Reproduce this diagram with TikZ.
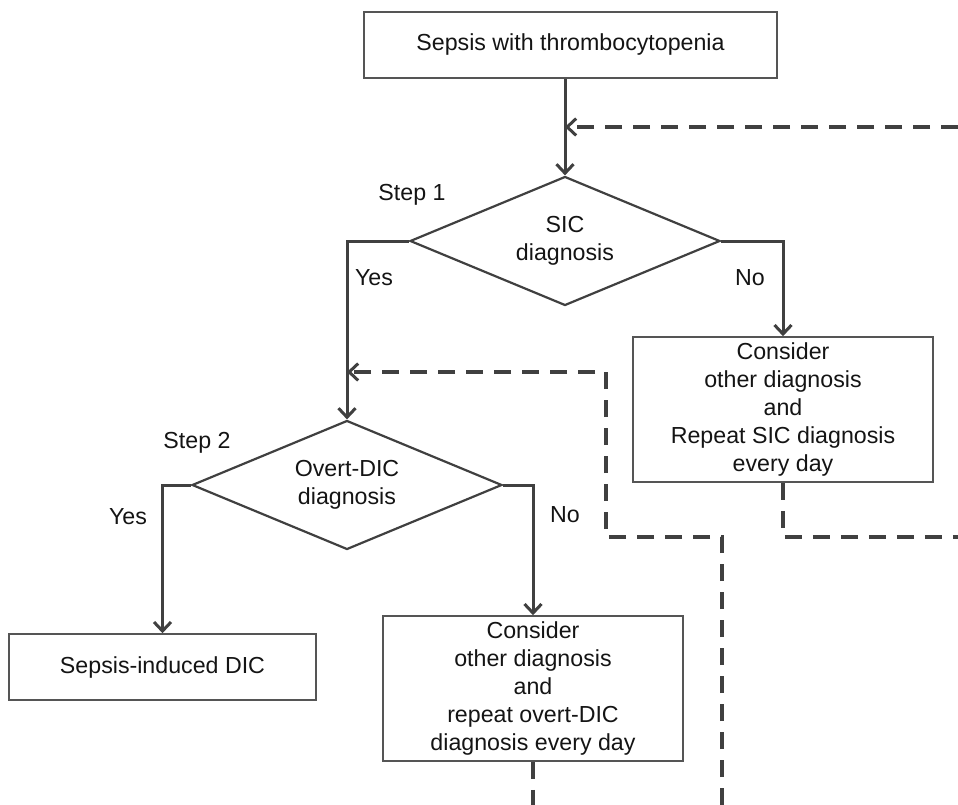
\documentclass[tikz,border=0pt]{standalone}
\usepackage{fontspec}
\setmainfont{Liberation Sans}
\usetikzlibrary{shapes.geometric,arrows.meta}
\definecolor{ln}{HTML}{404040}
\definecolor{bx}{HTML}{555555}
\definecolor{tx}{HTML}{141414}
\begin{document}
\begin{tikzpicture}[x=1pt,y=-1pt,
  every node/.style={font=\fontsize{23.2}{28}\selectfont, text=tx},
  box/.style={draw=bx, line width=1.6pt, rectangle, align=center, inner sep=0pt},
  dia/.style={draw=ln, line width=2.2pt, diamond, aspect=2.4, minimum width=310pt, minimum height=129pt, inner sep=0pt, align=center},
  arr/.style={draw=ln, line width=3pt, -{Straight Barb[length=9pt,width=17pt]}},
  dsh/.style={draw=ln, line width=3.5pt, dash pattern=on 17pt off 11pt},
  dsharr/.style={dsh, -{Straight Barb[length=9pt,width=17pt,line width=3pt]}},
  lbl/.style={inner sep=0pt}]
\useasboundingbox (0,0) rectangle (958,805);

\node[box, minimum width=413pt, minimum height=66pt] (top) at (570.5,45) {Sepsis with thrombocytopenia};
\node[dia] (d1) at (565,241) {SIC\\diagnosis};
\node[box, minimum width=300pt, minimum height=145pt] (sic) at (783,409.5) {Consider\\other diagnosis\\and\\Repeat SIC diagnosis\\every day};
\node[dia] (d2) at (347,485) {Overt-DIC\\diagnosis};
\node[box, minimum width=307pt, minimum height=66pt] (sid) at (162.5,667) {Sepsis-induced DIC};
\node[box, minimum width=300pt, minimum height=145pt] (dic) at (533,688.5) {Consider\\other diagnosis\\and\\repeat overt-DIC\\diagnosis every day};

\node[lbl] (s1) at (412,195) {Step 1};
\node[lbl] (y1) at (374,278) {Yes};
\node[lbl] (n1) at (750,278) {No};
\node[lbl] (s2) at (197,443) {Step 2};
\node[lbl] (y2) at (128,517) {Yes};
\node[lbl] (n2) at (565,515) {No};

\coordinate (e1) at (958,127);
\coordinate (e2) at (958,537);
\coordinate (b1) at (533,805);
\coordinate (b2) at (722,805);
\coordinate (k1) at (606,537);
\coordinate (k2) at (347,372);

\draw[arr] (top.south -| d1.north) -- (d1.north);
\draw[arr] (d1.west) -| (d2.north);
\draw[arr] (d1.east) -| (sic.north);
\draw[arr] (d2.west) -| (sid.north);
\draw[arr] (d2.east) -| (dic.north);

\draw[dsharr] (e1) -- (e1 -| d1.north);
\draw[dsh] (sic.south) |- (e2);
\draw[dsh] (dic.south) -- (b1);
\draw[dsharr] (b2) |- (k1) |- (k2);
\end{tikzpicture}
\end{document}
